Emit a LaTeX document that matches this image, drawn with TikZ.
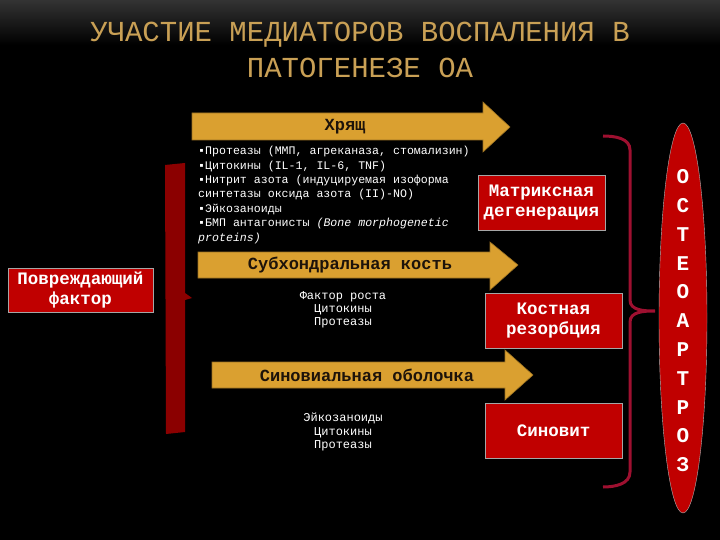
\documentclass[tikz,border=0pt]{standalone}
\usepackage{fontspec}
\setmainfont{Liberation Mono}
\usetikzlibrary{shapes.geometric}
\definecolor{gold}{HTML}{DAA030}
\definecolor{title}{HTML}{C9A055}
\definecolor{redbox}{HTML}{C00000}
\definecolor{bar}{HTML}{8B0000}
\definecolor{brk}{HTML}{9E1030}
\tikzset{
  arr/.style={fill=gold,draw=gold!70!black,line width=0.6pt},
  lab/.style={font=\fontsize{17}{17}\selectfont\bfseries,text=black!85!brown},
  rbox/.style={fill=redbox,draw=gray!70,line width=0.6pt,text=white,font=\fontsize{17.5}{20}\selectfont\bfseries,align=center,inner sep=0pt},
  small/.style={text=white,font=\fontsize{12}{13.2}\selectfont,align=center},
}
\begin{document}
\begin{tikzpicture}[x=1pt,y=-1pt]
\shade[top color=black!80,bottom color=black,middle color=black] (0,0) rectangle (720,90);
\fill[black] (0,90) rectangle (720,540);
\useasboundingbox (0,0) rectangle (720,540);
\node[text=title,font=\fontsize{29}{36}\selectfont,align=center] (t) at (360,50) {УЧАСТИЕ МЕДИАТОРОВ ВОСПАЛЕНИЯ В\\ПАТОГЕНЕЗЕ ОА};
% arrows
\draw[arr] (192,113) -- (483,113) -- (483,102) -- (510,127) -- (483,152) -- (483,140) -- (192,140) -- cycle;
\node[lab] (a1) at (345,127) {Хрящ};
\draw[arr] (198,252) -- (490,252) -- (490,242) -- (518,265) -- (490,290) -- (490,278) -- (198,278) -- cycle;
\node[lab] (a2) at (350,265) {Субхондральная кость};
\draw[arr] (212,362) -- (505,362) -- (505,350) -- (533,375) -- (505,400) -- (505,388) -- (212,388) -- cycle;
\node[lab] (a3) at (367,375) {Синовиальная оболочка};
% texts
\node[text=white,font=\fontsize{11.6}{14.4}\selectfont,align=left,anchor=north west,inner sep=0pt] (l1) at (198,146) {▪Протеазы (ММП, агреканаза, стомализин)\\▪Цитокины (IL-1,  IL-6, TNF)\\▪Нитрит азота (индуцируемая изоформа\\синтетазы оксида азота (II)-NO)\\▪Эйкозаноиды\\▪БМП антагонисты \textit{(Bone morphogenetic}\\\textit{proteins)}};
\node[small] (l2) at (343,310) {Фактор роста\\Цитокины\\Протеазы};
\node[small] (l3) at (343,432) {Эйкозаноиды\\Цитокины\\Протеазы};
% red boxes
\node[rbox,minimum width=127,minimum height=55] (m) at (541.5,202.5) {Матриксная\\дегенерация};
\node[rbox,minimum width=137,minimum height=55] (k) at (553.5,320.5) {Костная\\резорбция};
\node[rbox,minimum width=137,minimum height=55] (s) at (553.5,430.5) {Синовит};
\node[rbox,minimum width=145,minimum height=44] (p) at (80.5,290) {Повреждающий\\фактор};
% bar
\fill[bar] (165,165) -- (185,163) -- (185,432) -- (166,434) -- cycle;
\fill[bar] (185,293) -- (192,298) -- (185,300) -- cycle;
% bracket
\draw[brk,line width=3pt] (603,136) to[out=0,in=90] (630,150) -- (630,300) to[out=-90,in=180] (655,311) to[out=180,in=90] (630,322) -- (630,472) to[out=-90,in=0] (603,487);
% ellipse
\node[ellipse,fill=redbox,draw=gray!60,minimum width=48,minimum height=390,inner sep=0pt] (e) at (683,318) {};
\foreach \c [count=\i] in {О,С,Т,Е,О,А,Р,Т,Р,О,З}
  \node[text=white,font=\fontsize{21}{21}\selectfont\bfseries] at (683,148+28.8*\i) {\c};
\end{tikzpicture}
\end{document}
